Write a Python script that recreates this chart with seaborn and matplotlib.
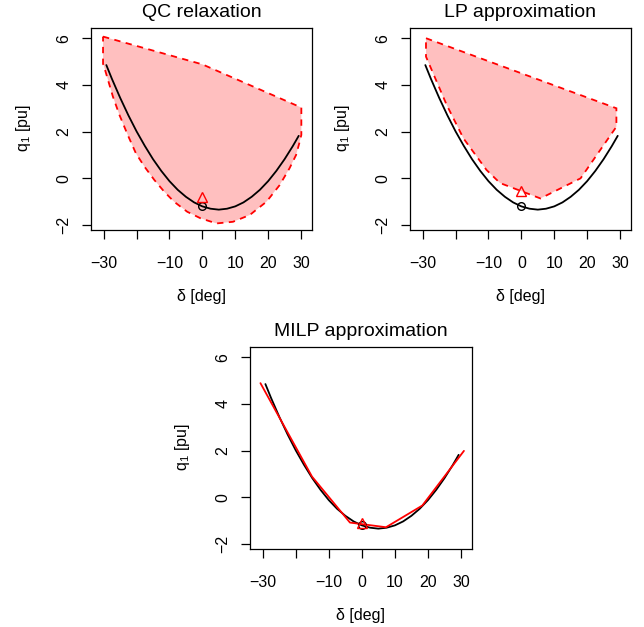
import numpy as np
import pandas as pd
import matplotlib
matplotlib.use("Agg")
import matplotlib.pyplot as plt
import seaborn as sns

# exact curve q1(delta)
delta_exact = [-29.2, -27.5, -25, -22.5, -20, -17.5, -15, -12.5, -10, -7.5, -5, -2.5,
               0, 2.5, 5, 7.5, 10, 12.5, 15, 17.5, 20, 22.5, 25, 27.5, 29.3]
q_exact = [4.85, 4.26, 3.45, 2.70, 2.01, 1.39, 0.82, 0.32, -0.12, -0.49, -0.79, -1.03,
           -1.20, -1.30, -1.34, -1.30, -1.20, -1.03, -0.79, -0.49, -0.12, 0.32, 0.82, 1.38, 1.82]

# QC relaxation feasible region (polygon outline)
qc_delta = [-30.2, 0.0, 30.1, 30.1, 29.6, 28.5, 26.5, 23.5, 19.5, 14.4, 9.3, 4.3, -0.55,
            -4.6, -8.6, -11.6, -14.6, -17.6, -20.2, -22.7, -25.2, -27.2, -29.9, -30.2]
qc_q = [6.07, 4.88, 3.03, 1.86, 1.57, 1.00, 0.43, -0.29, -1.00, -1.57, -1.86, -1.93, -1.71,
        -1.43, -1.00, -0.57, -0.07, 0.50, 1.07, 1.86, 2.71, 3.50, 4.79, 4.90]

# LP approximation feasible region
lp_delta = [-29.0, 28.9, 28.9, 18.0, 5.8, -6.5, -10.6, -17.6, -22.7, -29.0]
lp_q = [6.00, 3.00, 2.21, 0.00, -0.86, -0.20, 0.36, 1.71, 3.14, 5.21]

# MILP piecewise linear approximation
milp_delta = [-30.7, -15.1, -3.6, 7.3, 18.3, 30.9]
milp_q = [4.89, 0.89, -1.08, -1.28, -0.35, 1.99]

# operating points: exact (circle) and approximated (triangle)
op_delta = 0.0
op_q_exact = -1.20
op_q_approx = {"QC relaxation": -0.80, "LP approximation": -0.55, "MILP approximation": -1.10}

xticks = [-30, -20, -10, 0, 10, 20, 30]
xticklabels = ["\u221230", "", "\u221210", "0", "10", "20", "30"]
yticks = [-2, 0, 2, 4, 6]
yticklabels = ["\u22122", "0", "2", "4", "6"]

sns.set_theme(style="ticks")
plt.rcParams["font.family"] = ["Liberation Sans", "DejaVu Sans"]
plt.rcParams["mathtext.fontset"] = "custom"
plt.rcParams["mathtext.rm"] = "Liberation Sans"

fig = plt.figure(figsize=(6.44, 6.27), dpi=100)
W, H = 644, 627


def make_ax(left, top, right, bottom):
    return fig.add_axes([left / W, 1 - bottom / H, (right - left) / W, (bottom - top) / H])


def style_ax(ax, title):
    ax.set_xlim(-33.77, 33.25)
    ax.set_ylim(-2.19, 6.45)
    ax.set_xticks(xticks)
    ax.set_xticklabels(xticklabels)
    ax.set_yticks(yticks)
    ax.set_yticklabels(yticklabels, rotation=90, va="center")
    ax.tick_params(axis="both", direction="out", length=6.8, width=0.9,
                   labelsize=11.5, color="black", labelcolor="black",
                   bottom=True, left=True, top=False, right=False)
    ax.tick_params(axis="x", pad=12)
    ax.tick_params(axis="y", pad=7.5)
    for s in ax.spines.values():
        s.set_visible(True)
        s.set_color("black")
        s.set_linewidth(0.9)
    ax.set_xlabel("\u03b4 [deg]", fontsize=11.5, labelpad=13.5, color="black")
    ax.set_ylabel(r"q$_\mathregular{1}$ [pu]", fontsize=11.5, labelpad=17, color="black")
    ax.set_title(title, fontsize=14, pad=7.5, color="black")


def draw_points(ax, title):
    ax.plot([op_delta], [op_q_exact], marker="o", ms=5.5, mfc="none", mec="black",
            mew=1.0, ls="none")
    ax.plot([op_delta], [op_q_approx[title]], marker="^", ms=7, mfc="none", mec="red",
            mew=1.0, ls="none")


# QC relaxation
ax1 = make_ax(91.3, 27.7, 311.7, 229.5)
ax1.fill(qc_delta, qc_q, facecolor="#ffbfbf", edgecolor="red", lw=1.3,
         ls=(0, (3.5, 3)))
sns.lineplot(x=delta_exact, y=q_exact, ax=ax1, color="black", lw=1.3,
             sort=False, estimator=None)
draw_points(ax1, "QC relaxation")
style_ax(ax1, "QC relaxation")

# LP approximation
ax2 = make_ax(410.3, 27.7, 630.7, 229.5)
ax2.fill(lp_delta, lp_q, facecolor="#ffbfbf", edgecolor="red", lw=1.3,
         ls=(0, (3.5, 3)))
sns.lineplot(x=delta_exact, y=q_exact, ax=ax2, color="black", lw=1.3,
             sort=False, estimator=None)
draw_points(ax2, "LP approximation")
style_ax(ax2, "LP approximation")

# MILP approximation
ax3 = make_ax(250.3, 346.7, 471.7, 548.5)
sns.lineplot(x=delta_exact, y=q_exact, ax=ax3, color="black", lw=1.3,
             sort=False, estimator=None)
sns.lineplot(x=milp_delta, y=milp_q, ax=ax3, color="red", lw=1.3,
             sort=False, estimator=None)
draw_points(ax3, "MILP approximation")
style_ax(ax3, "MILP approximation")

fig.savefig("out.png", dpi=100, facecolor="white")
